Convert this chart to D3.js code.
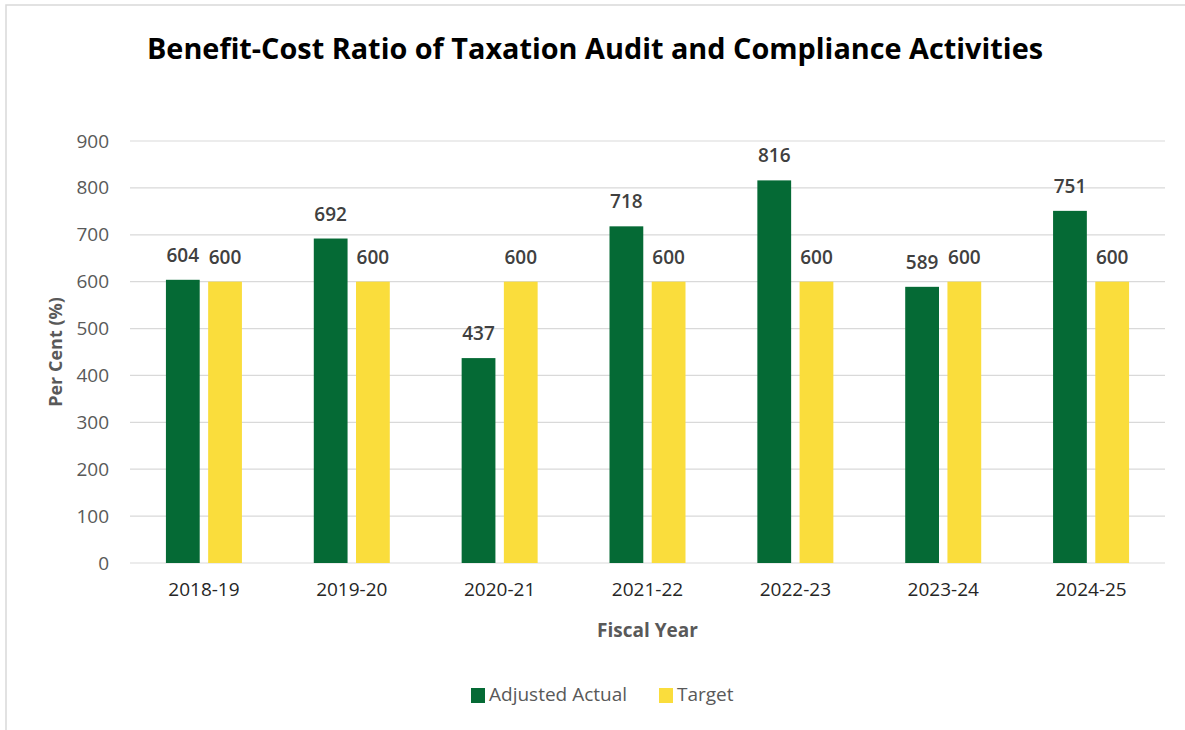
<!DOCTYPE html>
<html>
<head>
<meta charset="utf-8">
<script src="https://cdn.jsdelivr.net/npm/d3@7"></script>
<style>
  body { margin: 0; background: #fff; }
  svg text { font-family: "Open Sans", sans-serif; }
</style>
</head>
<body>
<svg id="chart"></svg>
<script>
// chart data
var years = ["2018-19", "2019-20", "2020-21", "2021-22", "2022-23", "2023-24", "2024-25"];
var seriesNames = ["Adjusted Actual", "Target"];
var actual = [604, 692, 437, 718, 816, 589, 751];
var target = [600, 600, 600, 600, 600, 600, 600];
var yTicks = [0, 100, 200, 300, 400, 500, 600, 700, 800, 900];

var width = 1185, height = 730;
var margin = {top: 141, right: 20, bottom: 167, left: 130};
var colors = {"Adjusted Actual": "#056a35", "Target": "#fadd3c"};

var svg = d3.select("#chart")
  .attr("width", width)
  .attr("height", height);

// outer frame
svg.append("rect")
  .attr("x", 6).attr("y", 5)
  .attr("width", width + 10).attr("height", height + 10)
  .attr("fill", "none")
  .attr("stroke", "#d9d9d9")
  .attr("stroke-width", 1.5);

var x = d3.scaleBand()
  .domain(years)
  .range([margin.left, width - margin.right]);

var x1 = d3.scaleBand()
  .domain(seriesNames)
  .range([0, 76])
  .paddingInner(0.2);

var y = d3.scaleLinear()
  .domain([0, 900])
  .range([height - margin.bottom, margin.top]);

// gridlines
svg.append("g")
  .selectAll("line")
  .data(yTicks)
  .enter()
  .append("line")
  .attr("x1", margin.left)
  .attr("x2", width - margin.right)
  .attr("y1", function(d) { return y(d); })
  .attr("y2", function(d) { return y(d); })
  .attr("stroke", "#d9d9d9")
  .attr("stroke-width", 1.2);

// y axis labels
var yAxis = svg.append("g")
  .attr("transform", "translate(" + (margin.left - 21) + ",0)")
  .call(d3.axisLeft(y).tickValues(yTicks).tickSize(0).tickPadding(0));
yAxis.select(".domain").remove();
yAxis.selectAll("text")
  .style("font-size", "19px")
  .attr("fill", "#595959");

// x axis labels
var xAxis = svg.append("g")
  .attr("transform", "translate(0," + y(0) + ")")
  .call(d3.axisBottom(x).tickSize(0).tickPadding(20));
xAxis.select(".domain").remove();
xAxis.selectAll("text")
  .style("font-size", "19px")
  .attr("fill", "#262626");

// bars
var rows = years.map(function(yr, i) {
  return {year: yr, values: [
    {name: "Adjusted Actual", value: actual[i]},
    {name: "Target", value: target[i]}
  ]};
});

var groups = svg.append("g")
  .selectAll("g")
  .data(rows)
  .enter()
  .append("g")
  .attr("transform", function(d) {
    return "translate(" + (x(d.year) + x.bandwidth() / 2 - 38) + ",0)";
  });

groups.selectAll("rect")
  .data(function(d) { return d.values; })
  .enter()
  .append("rect")
  .attr("x", function(d) { return x1(d.name); })
  .attr("width", x1.bandwidth())
  .attr("y", function(d) { return y(d.value); })
  .attr("height", function(d) { return y(0) - y(d.value); })
  .attr("fill", function(d) { return colors[d.name]; });

groups.selectAll("text")
  .data(function(d) { return d.values; })
  .enter()
  .append("text")
  .attr("x", function(d) { return x1(d.name) + x1.bandwidth() / 2; })
  .attr("y", function(d) { return y(d.value) - 18; })
  .attr("text-anchor", "middle")
  .style("font-size", "19px")
  .style("font-weight", "600")
  .attr("fill", "#404040")
  .text(function(d) { return d.value; });

// title
svg.append("text")
  .attr("x", 595)
  .attr("y", 59)
  .attr("text-anchor", "middle")
  .attr("textLength", 896)
  .attr("lengthAdjust", "spacingAndGlyphs")
  .style("font-size", "29px")
  .style("font-weight", "bold")
  .attr("fill", "#000")
  .text("Benefit-Cost Ratio of Taxation Audit and Compliance Activities");

// axis titles
svg.append("text")
  .attr("transform", "translate(62," + ((y(0) + y(900)) / 2) + ") rotate(-90)")
  .attr("text-anchor", "middle")
  .style("font-size", "18px")
  .style("font-weight", "bold")
  .attr("fill", "#595959")
  .text("Per Cent (%)");

svg.append("text")
  .attr("x", (margin.left + width - margin.right) / 2)
  .attr("y", 637)
  .attr("text-anchor", "middle")
  .style("font-size", "19px")
  .style("font-weight", "bold")
  .attr("fill", "#595959")
  .text("Fiscal Year");

// legend
var legendItems = [{name: "Adjusted Actual", x: 471}, {name: "Target", x: 659}];
var legend = svg.append("g")
  .selectAll("g")
  .data(legendItems)
  .enter()
  .append("g")
  .attr("transform", function(d) { return "translate(" + d.x + ",688)"; });

legend.append("rect")
  .attr("width", 14).attr("height", 15)
  .attr("fill", function(d) { return colors[d.name]; });

legend.append("text")
  .attr("x", 18)
  .attr("y", 13)
  .style("font-size", "19px")
  .attr("fill", "#595959")
  .text(function(d) { return d.name; });
</script>
</body>
</html>
